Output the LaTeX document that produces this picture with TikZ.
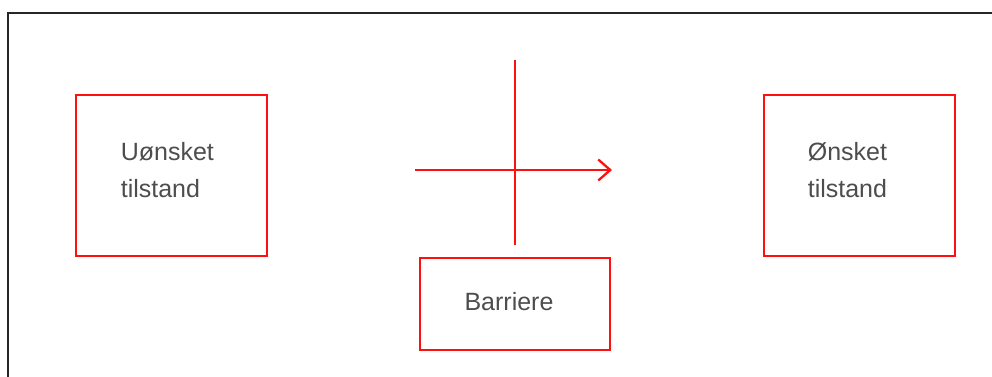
\documentclass[tikz,border=0pt]{standalone}
\usepackage{fontspec}
\setmainfont{Liberation Sans}
\usetikzlibrary{positioning,arrows.meta}
\definecolor{boxred}{HTML}{FF1010}
\definecolor{txtgray}{HTML}{4D4D4D}
\definecolor{framegray}{HTML}{262626}

\begin{document}
\begin{tikzpicture}[x=1pt,y=-1pt,
    statebox/.style={draw=boxred, line width=2.8pt, minimum width=191pt, minimum height=161pt},
    barbox/.style={draw=boxred, line width=2.8pt, minimum width=190pt, minimum height=92pt},
    boxtext/.style={inner sep=0pt, align=left, text=txtgray, font=\fontsize{25}{37}\selectfont},
    redline/.style={draw=boxred, line width=2.3pt}]
    \useasboundingbox (0,0) rectangle (992,376);
    \draw[framegray, line width=2pt] (8.3,380) -- (8.3,12.5) -- (1000,12.5);
    \node[statebox] (unwanted) at (171.5,175.5) {};
    \node[statebox] (wanted) at (859.5,175.5) {};
    \node[barbox] (barrier) at (515,304) {};
    \node[boxtext, right=46pt of unwanted.west, yshift=5pt] (unwantedtext) {Uønsket\\tilstand};
    \node[boxtext, right=45pt of wanted.west, yshift=5pt] (wantedtext) {Ønsket\\tilstand};
    \node[boxtext] (barriertext) at ([xshift=-6pt,yshift=2pt]barrier.center) {Barriere};
    \coordinate (flowstart) at (415,170);
    \coordinate (flowend) at (612,170);
    \coordinate (bartop) at (515,60);
    \coordinate (barbottom) at (515,245);
    \draw[redline, -{Straight Barb[length=12pt,width=21pt,line width=2.3pt]}] (flowstart) -- (flowend);
    \draw[redline] (bartop) -- (barbottom);
\end{tikzpicture}
\end{document}
